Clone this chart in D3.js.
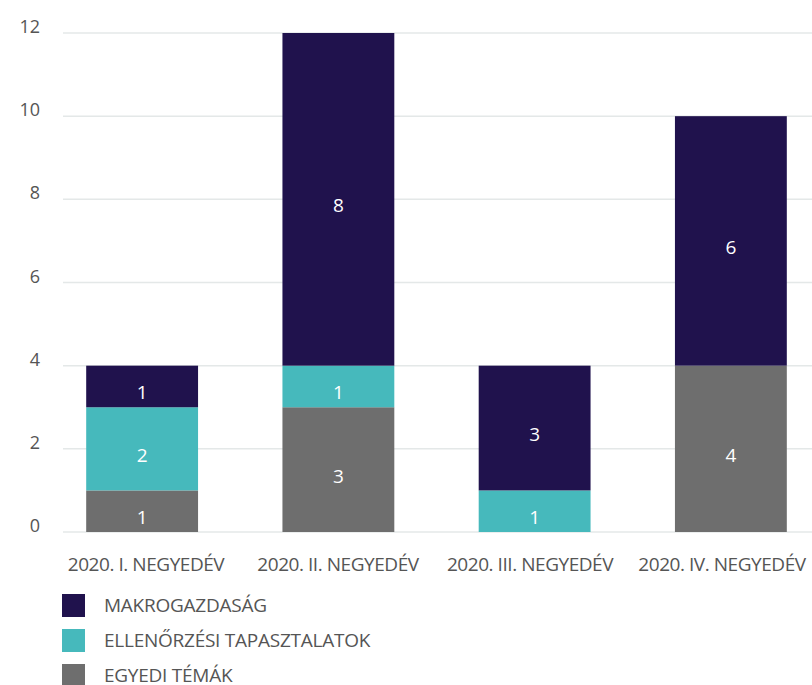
<!DOCTYPE html>
<html>
<head>
<meta charset="utf-8">
<script src="https://cdn.jsdelivr.net/npm/d3@7"></script>
<style>
  body { margin: 0; background: #fff; }
  svg { display: block; font-family: "Open Sans", sans-serif; }
</style>
</head>
<body>
<svg width="812" height="685"></svg>
<script>
const categories = ['2020. I. NEGYEDÉV', '2020. II. NEGYEDÉV', '2020. III. NEGYEDÉV', '2020. IV. NEGYEDÉV']
const seriesNames = ['EGYEDI TÉMÁK', 'ELLENŐRZÉSI TAPASZTALATOK', 'MAKROGAZDASÁG']
const egyedi = [1, 3, 0, 4]
const ellenorzesi = [2, 1, 1, 0]
const makro = [1, 8, 3, 6]
const yTicks = [0, 2, 4, 6, 8, 10, 12]
const legendOrder = ['MAKROGAZDASÁG', 'ELLENŐRZÉSI TAPASZTALATOK', 'EGYEDI TÉMÁK']

const colors = {
  'EGYEDI TÉMÁK': '#6e6e6e',
  'ELLENŐRZÉSI TAPASZTALATOK': '#46b9bc',
  'MAKROGAZDASÁG': '#20124d'
}

const width = 812
const svg = d3.select('svg')

const data = categories.map((c, i) => ({
  name: c,
  'EGYEDI TÉMÁK': egyedi[i],
  'ELLENŐRZÉSI TAPASZTALATOK': ellenorzesi[i],
  'MAKROGAZDASÁG': makro[i]
}))

const x = d3.scaleBand()
  .domain(categories)
  .range([44, 829])
  .paddingInner(0.43)
  .paddingOuter(0.215)

// category labels sit a little off the bar centres (last one pulled in from the edge)
const xLabel = d3.scalePoint()
  .domain(categories)
  .range([146, 722])

const y = d3.scaleLinear()
  .domain([0, 12])
  .range([532, 33])

// grid
svg.append('g')
  .selectAll('line')
  .data(yTicks)
  .join('line')
    .attr('x1', 63)
    .attr('x2', width)
    .attr('y1', d => y(d))
    .attr('y2', d => y(d))
    .attr('stroke', '#e4e8e8')
    .attr('stroke-width', 1.5)

// y labels
svg.append('g')
  .selectAll('text')
  .data(yTicks)
  .join('text')
    .attr('x', 40)
    .attr('y', d => y(d))
    .attr('text-anchor', 'end')
    .attr('font-size', 18)
    .attr('fill', '#555')
    .text(d => d)

const stacked = d3.stack().keys(seriesNames)(data)

const layers = svg.append('g')
  .selectAll('g')
  .data(stacked)
  .join('g')
    .attr('fill', d => colors[d.key])

layers.selectAll('rect')
  .data(d => d.filter(s => s[1] > s[0]))
  .join('rect')
    .attr('x', d => x(d.data.name))
    .attr('y', d => y(d[1]))
    .attr('width', x.bandwidth())
    .attr('height', d => y(d[0]) - y(d[1]))

layers.selectAll('text')
  .data(d => d.filter(s => s[1] > s[0]))
  .join('text')
    .attr('x', d => x(d.data.name) + x.bandwidth() / 2)
    .attr('y', d => (y(d[0]) + y(d[1])) / 2 + 13)
    .attr('text-anchor', 'middle')
    .attr('font-size', 19)
    .attr('fill', '#fff')
    .text(d => d[1] - d[0])

// x labels
svg.append('g')
  .selectAll('text')
  .data(categories)
  .join('text')
    .attr('x', d => xLabel(d))
    .attr('y', 571)
    .attr('text-anchor', 'middle')
    .attr('font-size', 19)
    .attr('letter-spacing', -0.45)
    .attr('fill', '#555')
    .text(d => d)

// legend
const legend = svg.append('g')
  .selectAll('g')
  .data(legendOrder)
  .join('g')
    .attr('transform', (d, i) => `translate(62, ${594 + i * 35})`)

legend.append('rect')
  .attr('width', 23)
  .attr('height', 23)
  .attr('fill', d => colors[d])

legend.append('text')
  .attr('x', 42)
  .attr('y', 18)
  .attr('font-size', 19)
  .attr('letter-spacing', -0.25)
  .attr('fill', '#555')
  .text(d => d)
</script>
</body>
</html>
